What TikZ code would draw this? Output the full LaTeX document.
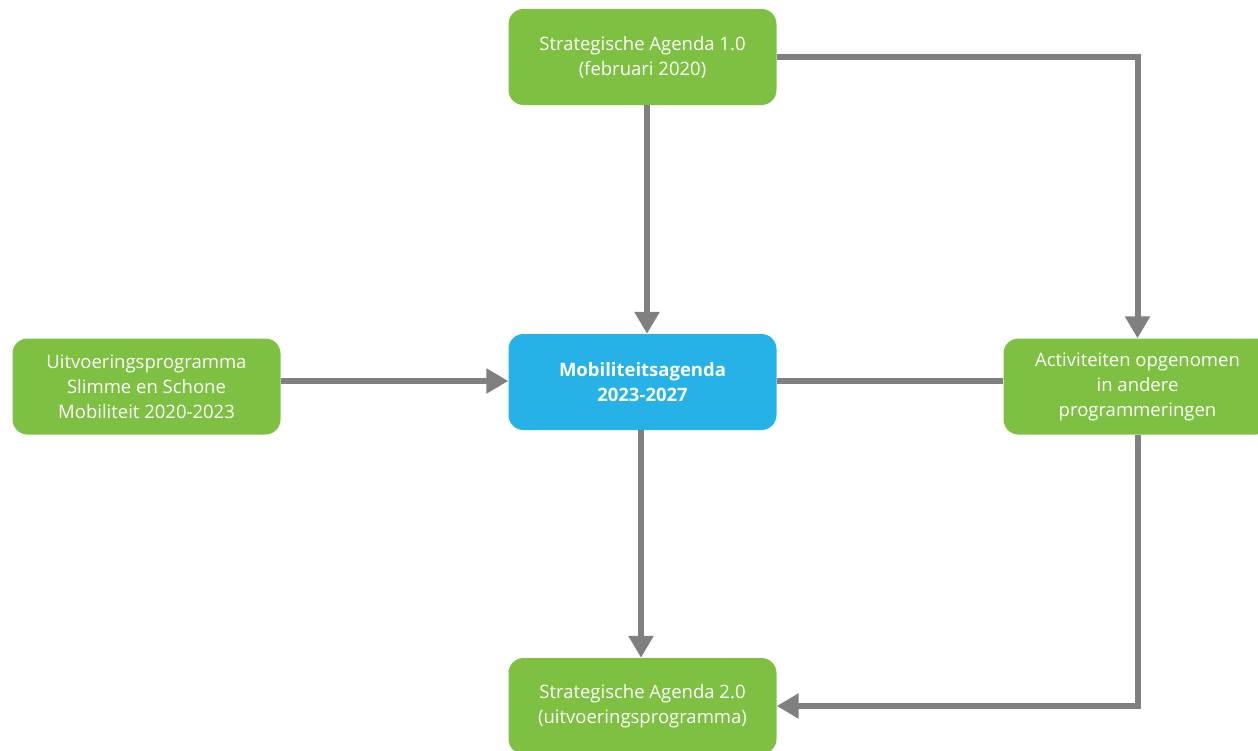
\documentclass[tikz,border=0pt]{standalone}
\usepackage{fontspec}
\setmainfont{Open Sans}
\usetikzlibrary{arrows.meta,calc}
\definecolor{boxgreen}{RGB}{126,193,66}
\definecolor{boxblue}{RGB}{38,178,230}
\definecolor{linegray}{RGB}{128,128,128}
\begin{document}
\begin{tikzpicture}[x=1pt,y=-1pt]
            \tikzstyle{every node}+=[inner sep=0pt]
            \tikzstyle{agenda}=[rectangle, rounded corners=15pt, fill=boxgreen, text=white,
                minimum width=268pt, minimum height=96pt, align=center,
                font=\fontsize{18.5}{25}\selectfont]
            \tikzstyle{flow}=[draw=linegray, line width=6pt]
            \tikzstyle{flowarrow}=[flow, -{Triangle[length=22pt,width=24pt]}]
            \useasboundingbox (0,0) rectangle (1258,750);
            \begin{scope}
            \clip (0,0) rectangle (1258,750);
            \node [agenda] (sa1) at (642.5,57) {Strategische Agenda 1.0\\(februari 2020)};
            \node [agenda, fill=boxblue, font=\fontsize{18.5}{25}\selectfont\bfseries] (mob) at (642.5,382) {Mobiliteitsagenda\\2023-2027};
            \node [agenda] (uitv) at (146.5,386.5) {Uitvoeringsprogramma\\Slimme en Schone\\Mobiliteit 2020-2023};
            \node [agenda] (act) at (1137.5,386.5) {Activiteiten opgenomen\\in andere\\programmeringen};
            \node [agenda] (sa2) at (642.5,706) {Strategische Agenda 2.0\\(uitvoeringsprogramma)};
            \end{scope}
            \draw [flowarrow] ([xshift=4.5pt]sa1.south) -- ([xshift=4.5pt]mob.north);
            \draw [flowarrow] (sa1.east) -| (act.north);
            \draw [flowarrow] (uitv.east |- 0,381) -- (mob.west |- 0,381);
            \draw [flow] (mob.east |- 0,381) -- (act.west |- 0,381);
            \draw [flowarrow] ([xshift=-1.5pt]mob.south) -- ([xshift=-1.5pt]sa2.north);
            \draw [flowarrow] (act.south) |- (sa2.east);
\end{tikzpicture}
\end{document}
